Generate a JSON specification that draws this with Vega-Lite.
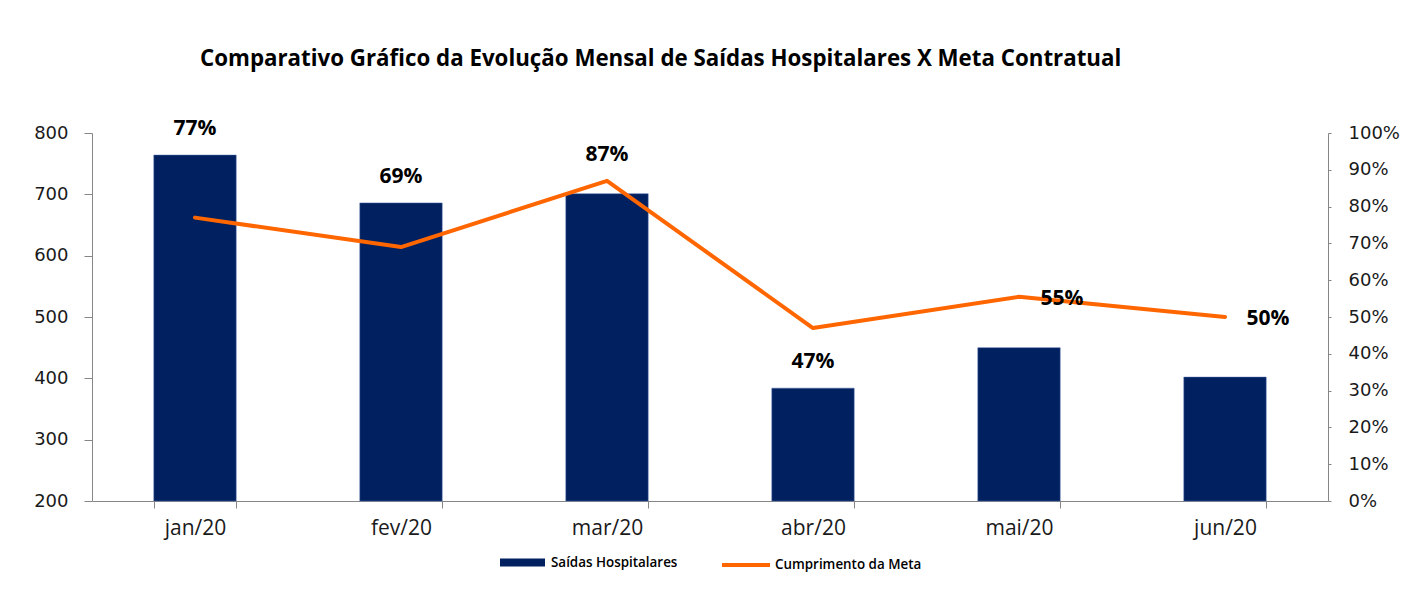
{
  "$schema": "https://vega.github.io/schema/vega-lite/v6.json",
  "autosize": {"type": "none"},
  "width": 1236,
  "height": 368,
  "padding": {"left": 92, "top": 133, "right": 79, "bottom": 98},
  "background": "white",
  "title": {
    "text": "Comparativo Gráfico da Evolução Mensal de Saídas Hospitalares X Meta Contratual",
    "font": "Open Sans",
    "fontSize": 22.3,
    "fontWeight": "bold",
    "color": "#000000",
    "anchor": "start",
    "frame": "group",
    "dx": 108,
    "offset": 48
  },
  "data": {
    "values": [
      {"mes": "jan/20", "saidas": 764, "meta": 0.77, "rotulo": "77%"},
      {"mes": "fev/20", "saidas": 686, "meta": 0.69, "rotulo": "69%"},
      {"mes": "mar/20", "saidas": 701, "meta": 0.87, "rotulo": "87%"},
      {"mes": "abr/20", "saidas": 384, "meta": 0.47, "rotulo": "47%"},
      {"mes": "mai/20", "saidas": 450, "meta": 0.555, "rotulo": "55%"},
      {"mes": "jun/20", "saidas": 402, "meta": 0.50, "rotulo": "50%"}
    ]
  },
  "encoding": {
    "x": {
      "field": "mes",
      "type": "nominal",
      "sort": null,
      "scale": {"paddingInner": 0.6, "paddingOuter": 0.3},
      "axis": {
        "title": null,
        "labelAngle": 0,
        "labelFont": "Open Sans",
        "labelFontSize": 21,
        "labelColor": "#1a1a1a",
        "labelPadding": 9,
        "tickBand": "extent",
        "tickSize": 7,
        "tickColor": "#868686",
        "domainColor": "#868686",
        "grid": false
      }
    }
  },
  "layer": [
    {
      "encoding": {
        "y": {
          "field": "saidas",
          "type": "quantitative",
          "scale": {"domain": [200, 800], "zero": false, "nice": false},
          "axis": {
            "title": null,
            "values": [200, 300, 400, 500, 600, 700, 800],
            "labelFont": "DejaVu Sans",
            "labelFontSize": 18,
            "labelColor": "#1a1a1a",
            "labelPadding": 16,
            "labelOverlap": false,
            "tickSize": 8,
            "tickColor": "#868686",
            "domainColor": "#868686",
            "grid": false
          }
        }
      },
      "layer": [
        {
          "mark": {"type": "bar", "stroke": "#4a6aa8", "strokeWidth": 0.5},
          "encoding": {
            "y2": {"datum": 200},
            "fill": {
              "datum": "Saídas Hospitalares",
              "scale": {"range": ["#002060"]},
              "legend": {
                "title": null,
                "orient": "none",
                "legendX": 408,
                "legendY": 407,
                "padding": 0,
                "symbolType": "M-1,-0.18H1V0.18H-1Z",
                "symbolSize": 2025,
                "symbolStrokeWidth": 0,
                "symbolOpacity": 1,
                "labelFont": "Open Sans",
                "labelFontSize": 13.4,
                "labelFontWeight": 600,
                "labelColor": "#000000",
                "labelOffset": 6
              }
            }
          }
        },
        {
          "transform": [{"filter": "indexof(['jan/20','fev/20','abr/20'], datum.mes) >= 0"}],
          "mark": {"type": "text", "font": "Open Sans", "fontSize": 21, "fontWeight": "bold", "color": "#000000", "baseline": "middle", "dy": -26},
          "encoding": {
            "text": {"field": "rotulo"}
          }
        }
      ]
    },
    {
      "encoding": {
        "y": {
          "field": "meta",
          "type": "quantitative",
          "scale": {"domain": [0, 1], "nice": false},
          "axis": {
            "title": null,
            "orient": "right",
            "format": ".0%",
            "values": [0, 0.1, 0.2, 0.3, 0.4, 0.5, 0.6, 0.7, 0.8, 0.9, 1],
            "labelFont": "DejaVu Sans",
            "labelFontSize": 18,
            "labelColor": "#1a1a1a",
            "labelPadding": 17,
            "labelOverlap": false,
            "labelFlush": false,
            "tickSize": 3,
            "tickColor": "#868686",
            "domainColor": "#868686",
            "grid": false
          }
        }
      },
      "layer": [
        {
          "mark": {"type": "line", "strokeWidth": 4, "strokeCap": "round", "strokeJoin": "round"},
          "encoding": {
            "stroke": {
              "datum": "Cumprimento da Meta",
              "scale": {"range": ["#FF6600"]},
              "legend": {
                "title": null,
                "orient": "none",
                "legendX": 628,
                "legendY": 406,
                "padding": 0,
                "symbolType": "stroke",
                "symbolSize": 2304,
                "symbolStrokeWidth": 4,
                "labelFont": "Open Sans",
                "labelFontSize": 13.4,
                "labelFontWeight": 600,
                "labelColor": "#000000",
                "labelOffset": 3
              }
            }
          }
        },
        {
          "transform": [{"filter": "datum.mes == 'mar/20'"}],
          "mark": {"type": "text", "font": "Open Sans", "fontSize": 21, "fontWeight": "bold", "color": "#000000", "baseline": "middle", "dy": -26},
          "encoding": {
            "text": {"field": "rotulo"}
          }
        },
        {
          "transform": [{"filter": "datum.mes == 'mai/20' || datum.mes == 'jun/20'"}],
          "mark": {"type": "text", "font": "Open Sans", "fontSize": 21, "fontWeight": "bold", "color": "#000000", "baseline": "middle", "dx": 43, "dy": 2},
          "encoding": {
            "text": {"field": "rotulo"}
          }
        }
      ]
    }
  ],
  "resolve": {"scale": {"y": "independent", "fill": "independent", "stroke": "independent"}, "axis": {"y": "independent"}},
  "config": {
    "view": {"stroke": null},
    "legend": {"layout": {"anchor": "middle"}}
  }
}
